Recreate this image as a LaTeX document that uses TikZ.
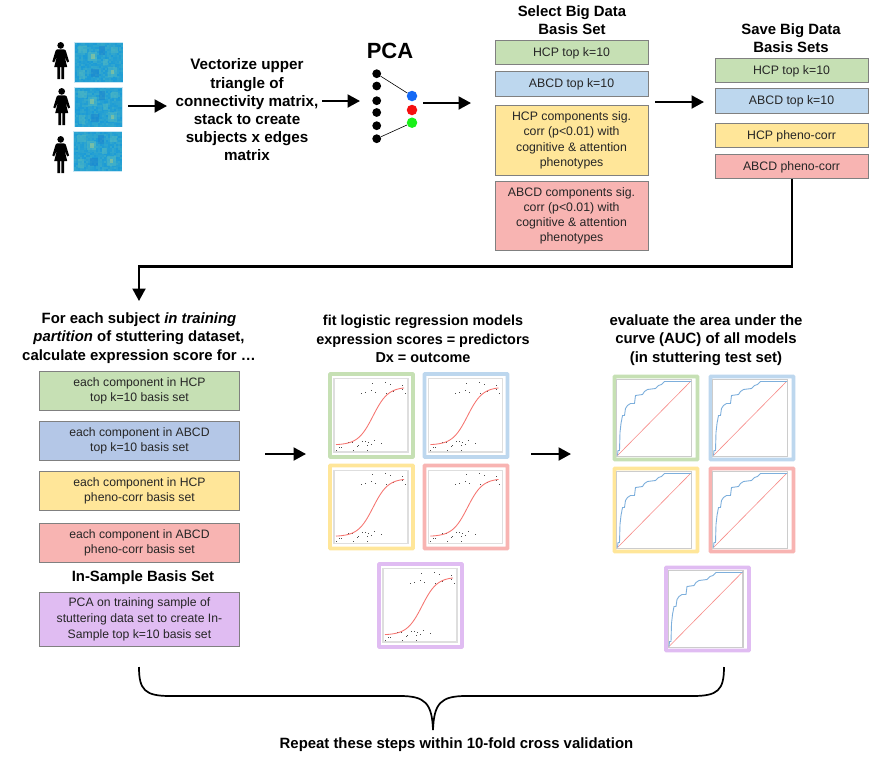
\documentclass[tikz,border=0pt]{standalone}
\usepackage{fontspec}
\setmainfont{Liberation Sans}
\usetikzlibrary{arrows.meta}
\definecolor{cgreen}{RGB}{198,224,180}
\definecolor{cblue}{RGB}{189,215,238}
\definecolor{cblueb}{RGB}{180,199,231}
\definecolor{cyellow}{RGB}{255,230,153}
\definecolor{cred}{RGB}{248,180,178}
\definecolor{cpurple}{RGB}{224,188,242}
\definecolor{hmbase}{RGB}{28,155,215}
\definecolor{hmdark}{RGB}{25,125,205}
\definecolor{hmlight}{RGB}{90,190,190}
\definecolor{hmhot}{RGB}{185,210,130}
\definecolor{rocblue}{RGB}{125,175,220}
\definecolor{redline}{RGB}{245,100,95}
\tikzset{
  x=1pt,y=-1pt,
  box/.style={draw=black!50,line width=0.5pt,minimum width=152.6pt,align=center,inner sep=1pt,
     text=black!85,font=\fontsize{12.3}{15.2}\selectfont,anchor=north west,
     execute at begin node={\rule{0pt}{11pt}}},
  multi/.style={execute at begin node={\rule{0pt}{15.5pt}}},
  widebox/.style={box,multi,minimum width=200.4pt,font=\fontsize{12.2}{15.8}\selectfont},
  head/.style={font=\bfseries\fontsize{14.9}{18.3}\selectfont,align=center},
  arr/.style={line width=2.1pt,-{Triangle[length=12.5pt,width=13pt]}},
  dotk/.style={circle,fill=black,inner sep=0pt,minimum size=8.8pt},
  pics/person/.style={code={
    \begin{scope}[scale=0.93]
    \fill (0,-14.3) circle (3.6);
    \fill (-3.5,-10) -- (3.5,-10) .. controls (5,-10) and (5.5,-9) .. (6,-7) -- (9,3) -- (7,4) -- (4,-3) -- (7,9) -- (3.6,9) -- (3.6,22) -- (0.7,22) -- (0.7,9) -- (-0.7,9) -- (-0.7,22) -- (-3.6,22) -- (-3.6,9) -- (-7,9) -- (-4,-3) -- (-7,4) -- (-9,3) -- (-6,-7) .. controls (-5.5,-9) and (-5,-10) .. (-3.5,-10) -- cycle;
    \end{scope}
  }},
  pics/heat/.style={code={
    \fill[white!75!hmbase] (-0.7,-0.7) rectangle (48.2,39.7);
    \fill[hmbase] (0,0) rectangle (47.5,39);
    \foreach \i in {0,...,23} {\foreach \j in {0,...,19} {
      \pgfmathsetmacro\rr{rnd*0.4}
      \fill[hmlight,opacity=\rr] (\i*1.98,\j*1.95) rectangle ++(1.98,1.95);
    }}
    \foreach \a/\b/\c/\d/\e in {13/9/22/18/hmlight,15.5/11/19.5/16/hmhot,28/16/33/22/hmlight,33/24/42/34/hmlight,36/27/39/31/hmhot,3/3/12/10/hmlight,36/4/43/10/hmlight,4/27/10/36/hmlight,16/26/24/34/hmdark,24/3/30/12/hmdark}
      {\fill[\e,opacity=.45] (\a,\b) rectangle (\c,\d);}
  }},
  pics/logit/.style={code={
    \draw[#1,line width=3.6pt,rounded corners=0.5pt] (0,0) rectangle (83,83);
    \draw[black!13,line width=1.4pt] (4,4.7) rectangle (78,78);
    \begin{scope}[shift={(-2,-2)}]
    \foreach \a/\b in {44/11,57/10,62/12,74/13,33/21,37/20,43/18,47/20,58/21,65/19,74/17,77/21,8/78,11/75,13/75,20/70,24/70,30/73,29/74,25/78,34/69,37/69,40/70,39/73,39/78,43/72,46/68,53/71}
      {\fill[black!70] (\a-0.45,\b-0.45) rectangle (\a+0.45,\b+0.45);}
    \draw[redline,line width=0.85pt,opacity=.9,domain=8:76,samples=40,smooth] plot (\x,{73-58/(1+exp(-(\x-45)/7.5))});
    \end{scope}
  }},
  pics/roc/.style={code={
    \draw[#1,line width=3.6pt,rounded corners=0.5pt] (0,0) rectangle (83,83);
    \draw[black!20,line width=1.1pt] (2.3,3) rectangle (77,79.7);
    \draw[redline,line width=0.6pt,opacity=.75] (3,79) -- (76.5,4.5);
    \draw[rocblue,line width=0.9pt] (3,79) -- (3.5,74) -- (5,74) -- (5.5,56) -- (6.5,47) -- (8,39) -- (10,39) -- (11,32) -- (13,29) -- (16,27) -- (20,27) -- (21,19) -- (28,18) -- (30,15) -- (33,13) -- (41,12) -- (44,9) -- (47,8) -- (50,5) -- (76.5,5);
  }}
}
\begin{document}
\begin{tikzpicture}
\useasboundingbox[fill=white] (0,0) rectangle (881,764);

% subjects
\pic at (60.7,58.7) {person};
\pic at (61.7,104.7) {person};
\pic at (60.7,152.7) {person};
\pgfmathsetseed{7}
\pic at (75,43) {heat};
\pic at (74.5,87.5) {heat};
\pic at (74,132) {heat};

\coordinate (a1s) at (128,106); \coordinate (a1e) at (167,106);
\draw[arr] (a1s) -- (a1e);

\node[head,font=\bfseries\fontsize{15.2}{18.2}\selectfont] (vec) at (247,110) {Vectorize upper\\triangle of\\connectivity matrix,\\stack to create\\subjects x edges\\matrix};

\coordinate (a2s) at (322,101); \coordinate (a2e) at (360,101);
\draw[arr] (a2s) -- (a2e);

% PCA
\node[font=\bfseries\fontsize{22}{24}\selectfont] (pca) at (390,51) {PCA};
\node[dotk] (p1) at (376.7,73.7) {};
\node[dotk] (p2) at (376.7,86) {};
\node[dotk] (p3) at (376.7,100.7) {};
\node[dotk] (p4) at (376.7,112.5) {};
\node[dotk] (p5) at (376.7,125.7) {};
\node[dotk] (p6) at (376.7,138.7) {};
\node[circle,fill={rgb,255:red,20;green,105;blue,245},inner sep=0pt,minimum size=10.5pt] (q1) at (412,96) {};
\node[circle,fill={rgb,255:red,245;green,15;blue,15},inner sep=0pt,minimum size=10.5pt] (q2) at (412,110) {};
\node[circle,fill={rgb,255:red,25;green,240;blue,25},inner sep=0pt,minimum size=10.5pt] (q3) at (412,122.7) {};
\draw[line width=0.6pt] (p1) -- (q1);
\draw[line width=0.6pt] (p6) -- (q3);

\coordinate (a3s) at (423,103); \coordinate (a3e) at (471,103);
\draw[arr] (a3s) -- (a3e);

% select
\node[head] (sel) at (572,20.5) {Select Big Data\\Basis Set};
\node[box,fill=cgreen,minimum height=24pt] (s1) at (495,40) {HCP top k=10};
\node[box,fill=cblue,minimum height=24.5pt] (s2) at (495,71) {ABCD top k=10};
\node[box,multi,fill=cyellow,minimum height=70pt] (s3) at (495,105) {HCP components sig.\\corr (p<0.01) with\\cognitive \& attention\\phenotypes};
\node[box,multi,fill=cred,minimum height=69pt] (s4) at (495,181) {ABCD components sig.\\corr (p<0.01) with\\cognitive \& attention\\phenotypes};

\coordinate (a4s) at (655,102); \coordinate (a4e) at (704,102);
\draw[arr] (a4s) -- (a4e);

% save
\node[head] (sav) at (791,38) {Save Big Data\\Basis Sets};
\node[box,fill=cgreen,minimum height=24pt] (b1) at (715,58) {HCP top k=10};
\node[box,fill=cblue,minimum height=25pt] (b2) at (715,88) {ABCD top k=10};
\node[box,fill=cyellow,minimum height=24.5pt] (b3) at (715,122.5) {HCP pheno-corr};
\node[box,fill=cred,minimum height=24pt] (b4) at (715,154) {ABCD pheno-corr};

\coordinate (a5e) at (139,301);
\draw[arr] (b4.south) -- ++(0,88) -| (a5e);

% lower left
\node[head] (for) at (139,338) {For each subject \textit{in training}\\\textit{partition} of stuttering dataset,\\calculate expression score for \dots};
\node[widebox,fill=cgreen,minimum height=39pt] (c1) at (39,371) {each component in HCP\\top k=10 basis set};
\node[widebox,fill=cblueb,minimum height=39pt] (c2) at (39,421) {each component in ABCD\\top k=10 basis set};
\node[widebox,fill=cyellow,minimum height=39pt] (c3) at (39,471) {each component in HCP\\pheno-corr basis set};
\node[widebox,fill=cred,minimum height=39pt] (c4) at (39,523) {each component in ABCD\\pheno-corr basis set};
\node[head] (ins) at (143,578) {In-Sample Basis Set};
\node[widebox,fill=cpurple,minimum height=54pt] (c5) at (39,592) {PCA on training sample of\\stuttering data set to create In-\\Sample top k=10 basis set};

\coordinate (a6s) at (265,454); \coordinate (a6e) at (306,454);
\draw[arr] (a6s) -- (a6e);

% logistic
\node[head,font=\bfseries\fontsize{14.4}{18.3}\selectfont] (fit) at (423,339) {fit logistic regression models\\expression scores = predictors\\Dx = outcome};
\pic at (330,374) {logit=cgreen};
\pic at (424.5,374) {logit=cblue};
\pic at (330,465.5) {logit=cyellow};
\pic at (424.5,465.5) {logit=cred};
\pic at (379,564) {logit=cpurple};

\coordinate (a7s) at (531,454); \coordinate (a7e) at (571,454);
\draw[arr] (a7s) -- (a7e);

% roc
\node[head] (eva) at (706,340) {evaluate the area under the\\curve (AUC) of all models\\(in stuttering test set)};
\pic at (614.5,376.5) {roc=cgreen};
\pic at (710.5,376.5) {roc=cblue};
\pic at (614.5,468.5) {roc=cyellow};
\pic at (710.5,468.5) {roc=cred};
\pic at (666,567.5) {roc=cpurple};

% brace
\draw[line width=1.7pt] (139,667) .. controls (139,690) and (145,696) .. (170,696) -- (400,696) .. controls (425,696) and (432,703) .. (433,730) .. controls (434,703) and (441,696) .. (466,696) -- (693,696) .. controls (718,696) and (724,690) .. (724,667);
\node[head] (rep) at (456.5,745) {Repeat these steps within 10-fold cross validation};
\end{tikzpicture}
\end{document}
